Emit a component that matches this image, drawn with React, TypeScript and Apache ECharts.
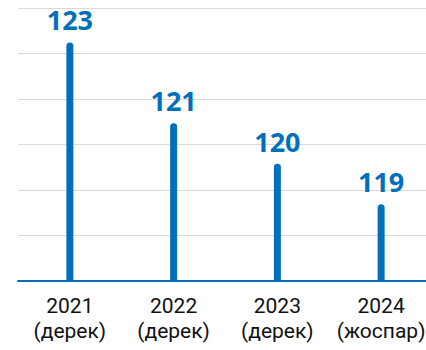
import React, { useEffect, useRef } from "react";
import * as echarts from "echarts";

const categories = ["2021\n(дерек)", "2022\n(дерек)", "2023\n(дерек)", "2024\n(жоспар)"];
const values = [123, 121, 120, 119];
const valueLabels = ["123", "121", "120", "119"];

const BLUE = "#0070BA";

export default function App() {
  const ref = useRef<HTMLDivElement>(null);
  useEffect(() => {
    if (!ref.current) return;
    const chart = echarts.init(ref.current, null, { renderer: "svg" });
    chart.setOption({
      animation: false,
      grid: { left: 18, top: 8, width: 415, height: 273, outerBoundsMode: "none" },
      xAxis: {
        type: "category",
        data: categories,
        axisLine: { show: true, lineStyle: { color: BLUE, width: 2 } },
        axisTick: { show: false },
        axisLabel: {
          color: "#111",
          fontFamily: "Roboto",
          fontSize: 21,
          lineHeight: 25,
          margin: 12,
          interval: 0,
        },
      },
      yAxis: [
        {
          type: "value",
          min: 117.1,
          max: 123.85,
          axisLine: { show: false },
          axisTick: { show: false },
          axisLabel: { show: false },
          splitLine: { show: false },
        },
        {
          type: "value",
          min: 0,
          max: 6,
          interval: 1,
          position: "left",
          axisLine: { show: false },
          axisTick: { show: false },
          axisLabel: { show: false },
          splitLine: { show: true, lineStyle: { color: "#d9d9d9", width: 1 } },
        },
      ],
      series: [
        {
          type: "bar",
          yAxisIndex: 0,
          data: values,
          barWidth: 7,
          itemStyle: { color: BLUE, borderRadius: [3.5, 3.5, 0, 0] },
          label: {
            show: true,
            position: "top",
            distance: 9,
            color: BLUE,
            fontFamily: "Noto Sans",
            fontWeight: "bold",
            fontSize: 27,
            formatter: (p: any) => valueLabels[p.dataIndex],
          },
        },
      ],
    });
    return () => chart.dispose();
  }, []);
  return (
    <div
      ref={ref}
      style={{ position: "absolute", left: 0, top: 0, width: 426, height: 350, overflow: "hidden" }}
    />
  );
}
